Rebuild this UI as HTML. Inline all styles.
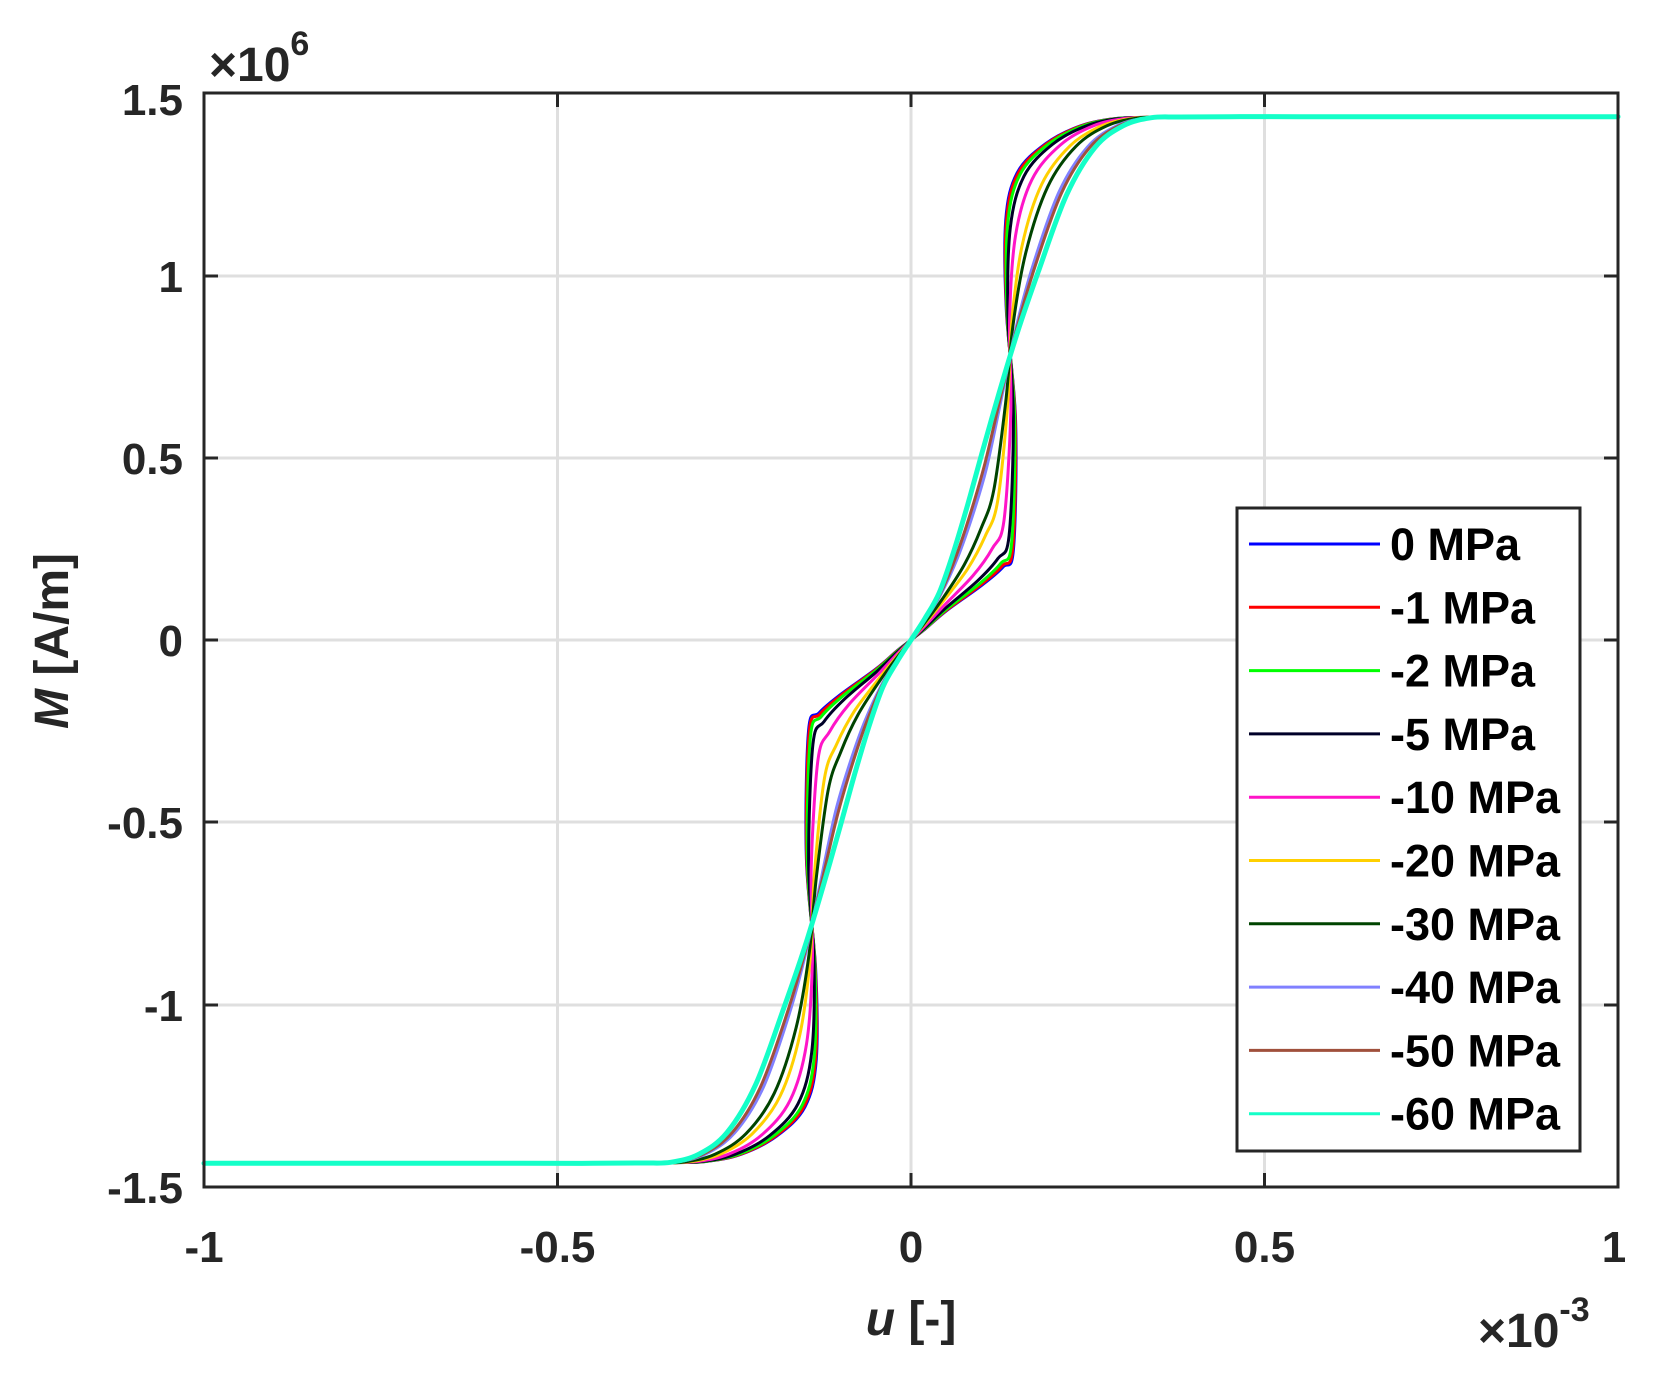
<!DOCTYPE html>
<html><head><meta charset="utf-8"><style>
html,body{margin:0;padding:0;background:#fff;}
svg{display:block;font-family:"Liberation Sans",Arial,sans-serif;}
</style></head><body>
<svg id="s" width="1654" height="1375" viewBox="0 0 1654 1375" xmlns="http://www.w3.org/2000/svg">
<rect width="1654" height="1375" fill="#fff"/>
<g stroke="#dfdfdf" stroke-width="3">
<line x1="557.5" y1="93" x2="557.5" y2="1187"/>
<line x1="911" y1="93" x2="911" y2="1187"/>
<line x1="1264.5" y1="93" x2="1264.5" y2="1187"/>
<line x1="204" y1="276" x2="1618" y2="276"/>
<line x1="204" y1="458" x2="1618" y2="458"/>
<line x1="204" y1="640" x2="1618" y2="640"/>
<line x1="204" y1="822" x2="1618" y2="822"/>
<line x1="204" y1="1005" x2="1618" y2="1005"/>
</g>
<g id="curves" fill="none" stroke-linejoin="round" stroke-linecap="round"></g>
<g stroke="#262626" stroke-width="3">
<rect x="204" y="93" width="1414" height="1094" fill="none"/>
<path d="M557.5 1187v-14M911 1187v-14M1264.5 1187v-14M557.5 93v14M911 93v14M1264.5 93v14
M204 276h14M204 458h14M204 640h14M204 822h14M204 1005h14
M1618 276h-14M1618 458h-14M1618 640h-14M1618 822h-14M1618 1005h-14"/>
</g>
<g fill="#262626" font-size="44" font-weight="bold" text-anchor="end">
<text x="183" y="115">1.5</text>
<text x="183" y="292">1</text>
<text x="183" y="474">0.5</text>
<text x="183" y="656">0</text>
<text x="183" y="838">-0.5</text>
<text x="183" y="1021">-1</text>
<text x="183" y="1203">-1.5</text>
</g>
<g fill="#262626" font-size="44" font-weight="bold" text-anchor="middle">
<text x="204" y="1262">-1</text>
<text x="557.5" y="1262">-0.5</text>
<text x="911" y="1262">0</text>
<text x="1264.5" y="1262">0.5</text>
<text x="1614" y="1262">1</text>
</g>
<text x="209" y="81" fill="#262626" font-size="48" font-weight="bold">×10<tspan font-size="34" dy="-26">6</tspan></text>
<text x="1478" y="1347" fill="#262626" font-size="48" font-weight="bold">×10<tspan font-size="34" dy="-26">-3</tspan></text>
<text x="911" y="1335" fill="#262626" font-size="48" font-weight="bold" text-anchor="middle"><tspan font-style="italic">u</tspan>  [-]</text>
<text transform="translate(68,641) rotate(-90)" fill="#262626" font-size="48" font-weight="bold" text-anchor="middle"><tspan font-style="italic">M</tspan>  [A/m]</text>
<rect x="1237" y="508" width="343" height="643" fill="#fff" stroke="#262626" stroke-width="3"/>
<g id="leg" font-size="45" font-weight="bold" fill="#000"></g>
</svg>
<script>
var sharp=[[0,0],[0.02,0.03],[0.05,0.08],[0.1,0.15],[0.13,0.2],[0.145,0.25],[0.148,0.6],[0.135,0.9],[0.134,1.15],[0.15,1.28],[0.19,1.36],[0.24,1.41],[0.29,1.43],[0.34,1.433],[0.42,1.434],[0.55,1.435],[0.75,1.435],[1,1.435]];
var smooth=[[0,0],[0.02,0.06],[0.04,0.13],[0.06,0.24],[0.08,0.37],[0.1,0.51],[0.125,0.68],[0.15,0.84],[0.18,1.01],[0.22,1.22],[0.26,1.35],[0.3,1.41],[0.34,1.432],[0.38,1.434],[0.45,1.435],[0.55,1.435],[0.75,1.435],[1,1.435]];
var ser=[["0 MPa","#0000ff",0,3],["-1 MPa","#ff0000",0.02,3],["-2 MPa","#00ff00",0.06,3],["-5 MPa","#000028",0.14,3],["-10 MPa","#ff14c8",0.3,3],["-20 MPa","#ffd000",0.5,3],["-30 MPa","#004400",0.62,3],["-40 MPa","#8080ff",0.85,3],["-50 MPa","#a0503c",0.9,3],["-60 MPa","#14ffc8",1,5]];
function X(u){return 911+u*707;}function Y(m){return 640-m*364.7;}
var g=document.getElementById('curves'),lg=document.getElementById('leg'),ns="http://www.w3.org/2000/svg";
ser.forEach(function(s,i){
 var t=s[2],pts=[];
 for(var k=0;k<sharp.length;k++){pts.push([sharp[k][0]*(1-t)+smooth[k][0]*t,sharp[k][1]*(1-t)+smooth[k][1]*t]);}
 var all=[];
 for(var k=pts.length-1;k>0;k--)all.push([-pts[k][0],-pts[k][1]]);
 for(var k=0;k<pts.length;k++)all.push(pts[k]);
 var P=all.map(function(p){return [X(p[0]),Y(p[1])];});
 var d="M"+P[0][0].toFixed(1)+" "+P[0][1].toFixed(1);
 for(var k=0;k<P.length-1;k++){
  var p0=P[Math.max(k-1,0)],p1=P[k],p2=P[k+1],p3=P[Math.min(k+2,P.length-1)];
  var c1=[p1[0]+(p2[0]-p0[0])/6,p1[1]+(p2[1]-p0[1])/6],c2=[p2[0]-(p3[0]-p1[0])/6,p2[1]-(p3[1]-p1[1])/6];
  d+="C"+c1[0].toFixed(1)+" "+c1[1].toFixed(1)+" "+c2[0].toFixed(1)+" "+c2[1].toFixed(1)+" "+p2[0].toFixed(1)+" "+p2[1].toFixed(1);
 }
 var p=document.createElementNS(ns,"path");p.setAttribute("d",d);p.setAttribute("stroke",s[1]);p.setAttribute("stroke-width",s[3]);g.appendChild(p);
 var y=544+i*63.3;
 var l=document.createElementNS(ns,"line");l.setAttribute("x1",1249);l.setAttribute("x2",1380);l.setAttribute("y1",y);l.setAttribute("y2",y);l.setAttribute("stroke",s[1]);l.setAttribute("stroke-width",3);lg.appendChild(l);
 var tx=document.createElementNS(ns,"text");tx.setAttribute("x",1390);tx.setAttribute("y",y+16);tx.textContent=s[0];lg.appendChild(tx);
});
</script>
</body></html>
